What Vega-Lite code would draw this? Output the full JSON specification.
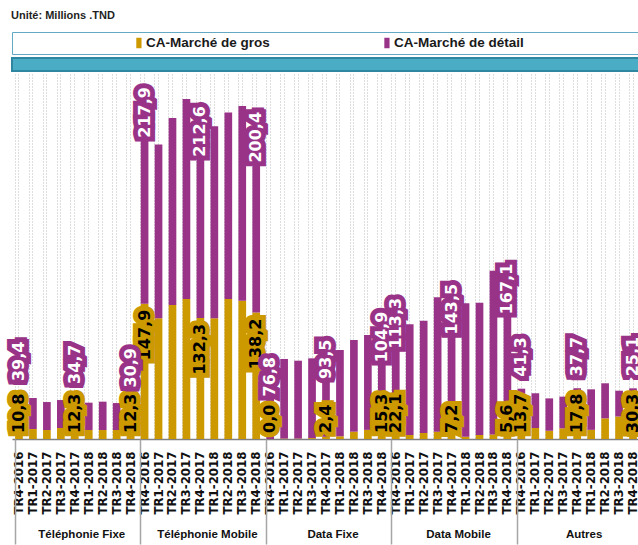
{
  "$schema": "https://vega.github.io/schema/vega-lite/v6.json",
  "padding": {"left": 10, "top": 9, "right": 0, "bottom": 0},
  "title": {"text": "Unité: Millions .TND", "anchor": "start", "font": "Liberation Sans", "fontSize": 11, "fontWeight": "bold", "color": "#1F1F1F", "offset": 11},
  "spacing": 2,
  "vconcat": [
    {
      "width": 628, "height": 22,
      "view": {"stroke": "#64A9C4", "strokeWidth": 1, "fill": "white"},
      "data": {"values": [{"s": "CA-Marché de gros"}, {"s": "CA-Marché de détail"}]},
      "encoding": {
        "x": {"field": "s", "type": "nominal", "sort": null, "scale": {"type": "point", "padding": 0.766, "align": 0.334}, "axis": null}
      },
      "layer": [
        {"mark": {"type": "point", "shape": "M-0.5,-1H0.5V1H-0.5Z", "filled": true, "size": 110, "opacity": 1},
         "encoding": {"color": {"field": "s", "type": "nominal", "scale": {"domain": ["CA-Marché de gros", "CA-Marché de détail"], "range": ["#CC9900", "#993388"]}, "legend": null}}},
        {"mark": {"type": "text", "align": "left", "baseline": "middle", "dx": 7, "font": "Liberation Sans", "fontSize": 13.5, "fontWeight": "bold", "fill": "#1A1A1A"},
         "encoding": {"text": {"field": "s", "type": "nominal"}}}
      ]
    },
    {
      "width": 628, "height": 13,
      "view": {"fill": "#4BACC6", "stroke": "#2E86A0", "strokeWidth": 2},
      "data": {"values": [{}]},
      "mark": {"type": "text"},
      "encoding": {"text": {"value": ""}}
    },
    {
      "width": 628, "height": 365,
      "data": {"values": [
        {"k": "Téléphonie Fixe|TR4-2016", "CA-Marché de gros": 10.8, "CA-Marché de détail": 39.4},
        {"k": "Téléphonie Fixe|TR1-2017", "CA-Marché de gros": 10.9, "CA-Marché de détail": 33.9},
        {"k": "Téléphonie Fixe|TR2-2017", "CA-Marché de gros": 9.8, "CA-Marché de détail": 30.6},
        {"k": "Téléphonie Fixe|TR3-2017", "CA-Marché de gros": 12.0, "CA-Marché de détail": 30.6},
        {"k": "Téléphonie Fixe|TR4-2017", "CA-Marché de gros": 12.3, "CA-Marché de détail": 34.7},
        {"k": "Téléphonie Fixe|TR1-2018", "CA-Marché de gros": 9.8, "CA-Marché de détail": 29.9},
        {"k": "Téléphonie Fixe|TR2-2018", "CA-Marché de gros": 9.8, "CA-Marché de détail": 31.0},
        {"k": "Téléphonie Fixe|TR3-2018", "CA-Marché de gros": 9.8, "CA-Marché de détail": 29.5},
        {"k": "Téléphonie Fixe|TR4-2018", "CA-Marché de gros": 12.3, "CA-Marché de détail": 30.9},
        {"k": "Téléphonie Mobile|TR4-2016", "CA-Marché de gros": 147.9, "CA-Marché de détail": 217.9},
        {"k": "Téléphonie Mobile|TR1-2017", "CA-Marché de gros": 132.0, "CA-Marché de détail": 190.0},
        {"k": "Téléphonie Mobile|TR2-2017", "CA-Marché de gros": 146.5, "CA-Marché de détail": 204.5},
        {"k": "Téléphonie Mobile|TR3-2017", "CA-Marché de gros": 153.0, "CA-Marché de détail": 218.6},
        {"k": "Téléphonie Mobile|TR4-2017", "CA-Marché de gros": 132.3, "CA-Marché de détail": 212.6},
        {"k": "Téléphonie Mobile|TR1-2018", "CA-Marché de gros": 132.0, "CA-Marché de détail": 210.0},
        {"k": "Téléphonie Mobile|TR2-2018", "CA-Marché de gros": 153.0, "CA-Marché de détail": 204.0},
        {"k": "Téléphonie Mobile|TR3-2018", "CA-Marché de gros": 151.0, "CA-Marché de détail": 213.0},
        {"k": "Téléphonie Mobile|TR4-2018", "CA-Marché de gros": 138.2, "CA-Marché de détail": 200.4},
        {"k": "Data Fixe|TR4-2016", "CA-Marché de gros": 0.0, "CA-Marché de détail": 76.8},
        {"k": "Data Fixe|TR1-2017", "CA-Marché de gros": 0.5, "CA-Marché de détail": 87.0},
        {"k": "Data Fixe|TR2-2017", "CA-Marché de gros": 0.5, "CA-Marché de détail": 85.1},
        {"k": "Data Fixe|TR3-2017", "CA-Marché de gros": 1.0, "CA-Marché de détail": 87.2},
        {"k": "Data Fixe|TR4-2017", "CA-Marché de gros": 2.4, "CA-Marché de détail": 93.5},
        {"k": "Data Fixe|TR1-2018", "CA-Marché de gros": 3.0, "CA-Marché de détail": 94.3},
        {"k": "Data Fixe|TR2-2018", "CA-Marché de gros": 8.0, "CA-Marché de détail": 100.2},
        {"k": "Data Fixe|TR3-2018", "CA-Marché de gros": 10.0, "CA-Marché de détail": 103.7},
        {"k": "Data Fixe|TR4-2018", "CA-Marché de gros": 15.3, "CA-Marché de détail": 104.9},
        {"k": "Data Mobile|TR4-2016", "CA-Marché de gros": 22.1, "CA-Marché de détail": 113.3},
        {"k": "Data Mobile|TR1-2017", "CA-Marché de gros": 4.5, "CA-Marché de détail": 121.0},
        {"k": "Data Mobile|TR2-2017", "CA-Marché de gros": 6.6, "CA-Marché de détail": 122.7},
        {"k": "Data Mobile|TR3-2017", "CA-Marché de gros": 8.0, "CA-Marché de détail": 146.9},
        {"k": "Data Mobile|TR4-2017", "CA-Marché de gros": 7.2, "CA-Marché de détail": 143.5},
        {"k": "Data Mobile|TR1-2018", "CA-Marché de gros": 2.5, "CA-Marché de détail": 145.8},
        {"k": "Data Mobile|TR2-2018", "CA-Marché de gros": 4.4, "CA-Marché de détail": 144.6},
        {"k": "Data Mobile|TR3-2018", "CA-Marché de gros": 5.0, "CA-Marché de détail": 179.0},
        {"k": "Data Mobile|TR4-2018", "CA-Marché de gros": 5.6, "CA-Marché de détail": 167.1},
        {"k": "Autres|TR4-2016", "CA-Marché de gros": 13.7, "CA-Marché de détail": 41.3},
        {"k": "Autres|TR1-2017", "CA-Marché de gros": 12.0, "CA-Marché de détail": 38.0},
        {"k": "Autres|TR2-2017", "CA-Marché de gros": 9.0, "CA-Marché de détail": 35.4},
        {"k": "Autres|TR3-2017", "CA-Marché de gros": 11.7, "CA-Marché de détail": 34.6},
        {"k": "Autres|TR4-2017", "CA-Marché de gros": 17.8, "CA-Marché de détail": 37.7},
        {"k": "Autres|TR1-2018", "CA-Marché de gros": 10.0, "CA-Marché de détail": 44.3},
        {"k": "Autres|TR2-2018", "CA-Marché de gros": 22.6, "CA-Marché de détail": 38.3},
        {"k": "Autres|TR3-2018", "CA-Marché de gros": 24.6, "CA-Marché de détail": 28.2},
        {"k": "Autres|TR4-2018", "CA-Marché de gros": 30.3, "CA-Marché de détail": 25.1}
      ]},
      "transform": [
        {"fold": ["CA-Marché de gros", "CA-Marché de détail"], "as": ["serie", "val"]},
        {"stack": "val", "groupby": ["k"], "sort": [{"field": "serie", "order": "descending"}], "as": ["v0", "v1"]}
      ],
      "resolve": {"axis": {"x": "independent"}},
      "layer": [
        {
          "mark": {"type": "bar"},
          "encoding": {
            "x": {"field": "k", "type": "nominal", "sort": null, "scale": {"paddingInner": 0.45, "paddingOuter": 0.225},
                  "axis": {"orient": "bottom", "title": null, "labelExpr": "split(datum.value, '|')[1]", "labelAngle": -90, "labelFont": "DejaVu Sans", "labelFontSize": 11.8, "labelFontWeight": "bold", "labelColor": "#111111", "labelPadding": 12, "labelOverlap": false, "ticks": false, "domain": true, "domainColor": "#808080", "domainWidth": 1.5, "grid": true, "gridDash": [1, 2], "gridColor": "#BDBDBD"}},
            "y": {"field": "v1", "type": "quantitative", "scale": {"domain": [0, 399], "nice": false, "zero": true}, "axis": null},
            "y2": {"field": "v0"},
            "color": {"field": "serie", "type": "nominal", "scale": {"domain": ["CA-Marché de gros", "CA-Marché de détail"], "range": ["#CC9900", "#993388"]}, "legend": null}
          }
        },
        {
          "mark": {"type": "text", "angle": 270, "align": "left", "baseline": "middle", "dx": 6, "font": "DejaVu Sans", "fontSize": 16, "fontWeight": "bold", "fill": "#CC9900", "stroke": "#CC9900", "strokeWidth": 10, "strokeJoin": "miter", "strokeMiterLimit": 2},
          "encoding": {
            "x": {"field": "k", "type": "nominal", "sort": null, "axis": {"orient": "bottom", "title": null, "bandPosition": 0, "grid": true, "gridDash": [1, 2], "gridColor": "#BDBDBD", "labels": false, "ticks": false, "domain": false}},
            "y": {"field": "v0", "type": "quantitative", "axis": null},
            "text": {"condition": {"test": "datum.serie == 'CA-Marché de gros' && indexof(datum.k, '|TR4') > 0 && indexof(datum.k, 'Téléphonie Mobile') != 0", "field": "val", "type": "quantitative", "format": ".1f"}, "value": ""}
          }
        },
        {
          "mark": {"type": "text", "angle": 270, "align": "left", "baseline": "middle", "dx": 6, "font": "DejaVu Sans", "fontSize": 16, "fontWeight": "bold", "fill": "#000000"},
          "encoding": {
            "x": {"field": "k", "type": "nominal", "sort": null, "axis": null},
            "y": {"field": "v0", "type": "quantitative", "axis": null},
            "text": {"condition": {"test": "datum.serie == 'CA-Marché de gros' && indexof(datum.k, '|TR4') > 0 && indexof(datum.k, 'Téléphonie Mobile') != 0", "field": "val", "type": "quantitative", "format": ".1f"}, "value": ""}
          }
        },
        {
          "mark": {"type": "text", "angle": 270, "align": "right", "baseline": "middle", "dx": -6, "font": "DejaVu Sans", "fontSize": 16, "fontWeight": "bold", "fill": "#CC9900", "stroke": "#CC9900", "strokeWidth": 10, "strokeJoin": "miter", "strokeMiterLimit": 2},
          "encoding": {
            "x": {"field": "k", "type": "nominal", "sort": null,
                  "axis": {"orient": "bottom", "title": null, "values": ["Téléphonie Fixe|TR4-2016", "Téléphonie Mobile|TR4-2016", "Data Fixe|TR4-2016", "Data Mobile|TR4-2016", "Autres|TR4-2016"], "bandPosition": 0, "ticks": true, "tickSize": 105, "tickColor": "#A6A6A6", "tickWidth": 1.5, "labelExpr": "split(datum.value, '|')[0]", "labelAngle": 0, "labelAlign": "center", "labelBaseline": "top", "labelOffset": 62.8, "labelPadding": -16, "labelFont": "Liberation Sans", "labelFontSize": 11.5, "labelFontWeight": "bold", "labelColor": "#111111", "labelOverlap": false, "labelFlush": false, "labelBound": false, "domain": false, "grid": false}},
            "y": {"field": "v1", "type": "quantitative", "axis": null},
            "text": {"condition": {"test": "datum.serie == 'CA-Marché de gros' && indexof(datum.k, '|TR4') > 0 && indexof(datum.k, 'Téléphonie Mobile') == 0", "field": "val", "type": "quantitative", "format": ".1f"}, "value": ""}
          }
        },
        {
          "mark": {"type": "text", "angle": 270, "align": "right", "baseline": "middle", "dx": -6, "font": "DejaVu Sans", "fontSize": 16, "fontWeight": "bold", "fill": "#000000"},
          "encoding": {
            "x": {"field": "k", "type": "nominal", "sort": null, "axis": null},
            "y": {"field": "v1", "type": "quantitative", "axis": null},
            "text": {"condition": {"test": "datum.serie == 'CA-Marché de gros' && indexof(datum.k, '|TR4') > 0 && indexof(datum.k, 'Téléphonie Mobile') == 0", "field": "val", "type": "quantitative", "format": ".1f"}, "value": ""}
          }
        },
        {
          "mark": {"type": "text", "angle": 270, "align": "left", "baseline": "middle", "dx": 12, "font": "DejaVu Sans", "fontSize": 16, "fontWeight": "bold", "fill": "#993388", "stroke": "#993388", "strokeWidth": 10, "strokeJoin": "miter", "strokeMiterLimit": 2},
          "encoding": {
            "x": {"field": "k", "type": "nominal", "sort": null, "axis": null},
            "y": {"field": "v1", "type": "quantitative", "axis": null},
            "text": {"condition": {"test": "datum.serie == 'CA-Marché de détail' && indexof(datum.k, '|TR4') > 0 && (indexof(datum.k, 'Téléphonie Fixe') == 0 || indexof(datum.k, 'Autres') == 0)", "field": "val", "type": "quantitative", "format": ".1f"}, "value": ""}
          }
        },
        {
          "mark": {"type": "text", "angle": 270, "align": "left", "baseline": "middle", "dx": 12, "font": "DejaVu Sans", "fontSize": 16, "fontWeight": "bold", "fill": "#FFFFFF"},
          "encoding": {
            "x": {"field": "k", "type": "nominal", "sort": null, "axis": null},
            "y": {"field": "v1", "type": "quantitative", "axis": null},
            "text": {"condition": {"test": "datum.serie == 'CA-Marché de détail' && indexof(datum.k, '|TR4') > 0 && (indexof(datum.k, 'Téléphonie Fixe') == 0 || indexof(datum.k, 'Autres') == 0)", "field": "val", "type": "quantitative", "format": ".1f"}, "value": ""}
          }
        },
        {
          "mark": {"type": "text", "angle": 270, "align": "center", "baseline": "middle", "dx": -8, "font": "DejaVu Sans", "fontSize": 16, "fontWeight": "bold", "fill": "#993388", "stroke": "#993388", "strokeWidth": 10, "strokeJoin": "miter", "strokeMiterLimit": 2},
          "encoding": {
            "x": {"field": "k", "type": "nominal", "sort": null, "axis": null},
            "y": {"field": "v1", "type": "quantitative", "axis": null},
            "text": {"condition": {"test": "datum.serie == 'CA-Marché de détail' && indexof(datum.k, '|TR4') > 0 && indexof(datum.k, 'Téléphonie Fixe') != 0 && indexof(datum.k, 'Autres') != 0", "field": "val", "type": "quantitative", "format": ".1f"}, "value": ""}
          }
        },
        {
          "mark": {"type": "text", "angle": 270, "align": "center", "baseline": "middle", "dx": -8, "font": "DejaVu Sans", "fontSize": 16, "fontWeight": "bold", "fill": "#FFFFFF"},
          "encoding": {
            "x": {"field": "k", "type": "nominal", "sort": null, "axis": null},
            "y": {"field": "v1", "type": "quantitative", "axis": null},
            "text": {"condition": {"test": "datum.serie == 'CA-Marché de détail' && indexof(datum.k, '|TR4') > 0 && indexof(datum.k, 'Téléphonie Fixe') != 0 && indexof(datum.k, 'Autres') != 0", "field": "val", "type": "quantitative", "format": ".1f"}, "value": ""}
          }
        }
      ]
    }
  ],
  "config": {
    "view": {"stroke": null},
    "legend": {"disable": true},
    "locale": {"number": {"decimal": ",", "thousands": " ", "grouping": [3], "currency": ["", ""]}}
  }
}
